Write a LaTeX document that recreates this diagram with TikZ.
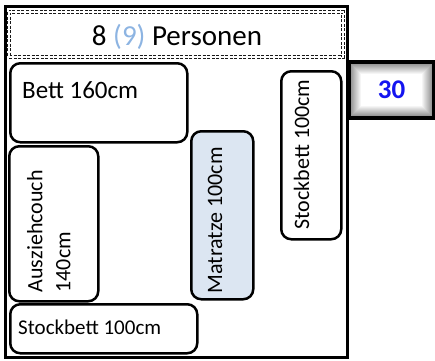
\documentclass[tikz,border=0pt]{standalone}
\usepackage{fontspec}
\setmainfont{Carlito}
\usepackage{xcolor}
\usetikzlibrary{calc, positioning}

\definecolor{mattblue}{HTML}{DCE6F2}
\definecolor{lightnum}{HTML}{8DB4E2}
\definecolor{countblue}{HTML}{1414F0}

\tikzset{
  bed/.style={draw=black, line width=2.5pt, rounded corners=10pt, inner sep=0pt},
  bedlabel/.style={inner sep=0pt, font=\fontsize{22}{28}\selectfont},
}

\begin{document}
\begin{tikzpicture}[x=1pt, y=-1pt]
  \useasboundingbox (0,0) rectangle (435,360);

  % Define corners of the room
  \coordinate (R1) at (5,6);
  \coordinate (R2) at (347,357);

  % Counter box on the right wall
  \foreach \i [evaluate=\i as \g using int(48-4*\i)] in {0,...,12}
    \fill[black!\g] (349+\i,62+\i) rectangle (434-\i,118-\i);
  \draw[line width=3.5pt] (349,62) rectangle (434,118);
  \node[font=\bfseries\fontsize{27}{32}\selectfont, text=countblue] (count) at (391.5,90) {30};

  % Draw the room
  \draw[line width=3pt] (R1) rectangle (R2);

  % Header with number of persons
  \draw[black!90, line width=0.8pt, double, double distance=2pt, dash pattern=on 3pt off 1.5pt] (9,12) rectangle (343,57);
  \node[font=\fontsize{29}{34}\selectfont, anchor=base, inner sep=0pt] (pers) at (177,45) {8 \textcolor{lightnum}{(9)} Personen};

  % Draw the beds
  \node[bed, minimum width=177pt, minimum height=79pt, anchor=north west] (bett) at (9,62) {};
  \node[bed, minimum width=89pt, minimum height=155pt, anchor=north west] (couch) at (8,145) {};
  \node[bed, fill=mattblue, minimum width=62pt, minimum height=168pt, anchor=north west] (matr) at (190,130) {};
  \node[bed, minimum width=60pt, minimum height=168pt, anchor=north west] (stockr) at (280,70) {};
  \node[bed, minimum width=187pt, minimum height=49pt, anchor=north west] (stockb) at (9,303) {};

  % Label the beds
  \node[bedlabel, font=\fontsize{25}{30}\selectfont, anchor=base west] (bettlabel) at ($(bett.north west)+(13,36)$) {Bett 160cm};
  \node[bedlabel, rotate=90, anchor=north west, align=left] (couchlabel) at ($(couch.south west)+(19,-10)$) {Ausziehcouch\\140cm};
  \node[bedlabel, rotate=90, anchor=base west] (matrlabel) at ($(matr.south west)+(32,-7)$) {Matratze 100cm};
  \node[bedlabel, rotate=90, anchor=base west] (stockrlabel) at ($(stockr.south west)+(29,-11)$) {Stockbett 100cm};
  \node[bedlabel, font=\fontsize{21}{26}\selectfont, anchor=base west] (stockblabel) at ($(stockb.north west)+(9,31)$) {Stockbett 100cm};

\end{tikzpicture}
\end{document}
